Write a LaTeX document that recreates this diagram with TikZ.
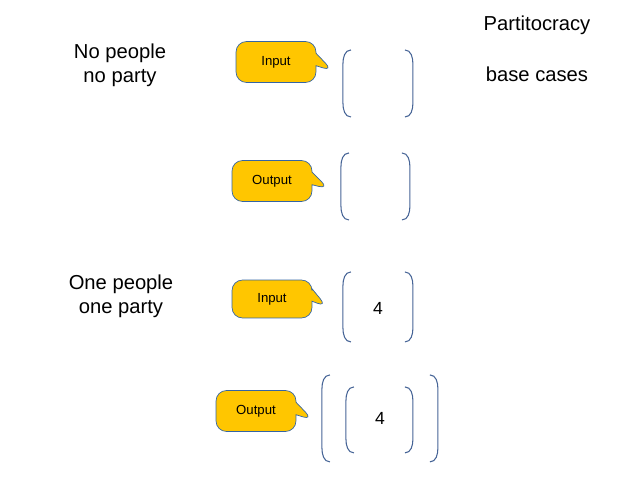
\documentclass[tikz,border=0pt]{standalone}
\usepackage{fontspec}
\setmainfont{Liberation Sans}
\usetikzlibrary{shapes.callouts, positioning}
\definecolor{calloutfill}{RGB}{255, 198, 0}
\definecolor{calloutline}{RGB}{52, 101, 164}
\definecolor{brackline}{RGB}{70, 100, 150}
\newcommand{\bracketpair}[4]{% left x, right x, top y, bottom y
  \draw[bracket] (#1+0.16,#3) to[out=180,in=90] (#1,#3-0.28) -- (#1,#4+0.28) to[out=-90,in=180] (#1+0.16,#4);
  \draw[bracket] (#2-0.16,#3) to[out=0,in=90] (#2,#3-0.28) -- (#2,#4+0.28) to[out=-90,in=0] (#2-0.16,#4);
}
\begin{document}
\begin{tikzpicture}[
    x=0.02cm, y=-0.02cm,
    bubble/.style={rectangle callout, draw=calloutline, fill=calloutfill, rounded corners=6pt, minimum width=1.6cm, minimum height=0.82cm, font=\fontsize{7.5}{9}\selectfont},
    label/.style={align=center, font=\fontsize{11.5}{13.5}\selectfont},
    bracket/.style={draw=brackline, semithick, x=1cm, y=1cm}
]
    \useasboundingbox (0,0) rectangle (640,480);

    % titles
    \node[label] (title) at (537,25) {Partitocracy};
    \node[label] (sub) at (537,74) {base cases};
    \node[label] (case0) at (120,65) {No people\\no party};
    \node[label] (case1) at (121,296) {One people\\one party};

    % pointer tips
    \coordinate (t1) at (333,71);
    \coordinate (t2) at (329,189);
    \coordinate (t3) at (327,307);
    \coordinate (t4) at (313,420);

    % callouts
    \node[bubble, callout absolute pointer={(t1)}] (in0) at (276,62) {Input};
    \node[bubble, callout absolute pointer={(t2)}] (out0) at (272,181) {Output};
    \node[bubble, callout absolute pointer={(t3)}, minimum height=0.76cm] (in1) at (272,299) {Input};
    \node[bubble, callout absolute pointer={(t4)}] (out1) at (256,411) {Output};

    % lists
    \bracketpair{6.86}{8.26}{-1.00}{-2.34}
    \bracketpair{6.82}{8.20}{-3.06}{-4.40}
    \bracketpair{6.86}{8.26}{-5.44}{-6.84}
    \node[font=\fontsize{10}{12}\selectfont] (v1) at (378,308) {4};
    \bracketpair{6.92}{8.26}{-7.74}{-9.06}
    \bracketpair{6.44}{8.76}{-7.50}{-9.24}
    \node[font=\fontsize{10}{12}\selectfont] (v2) at (380,418) {4};
\end{tikzpicture}
\end{document}
